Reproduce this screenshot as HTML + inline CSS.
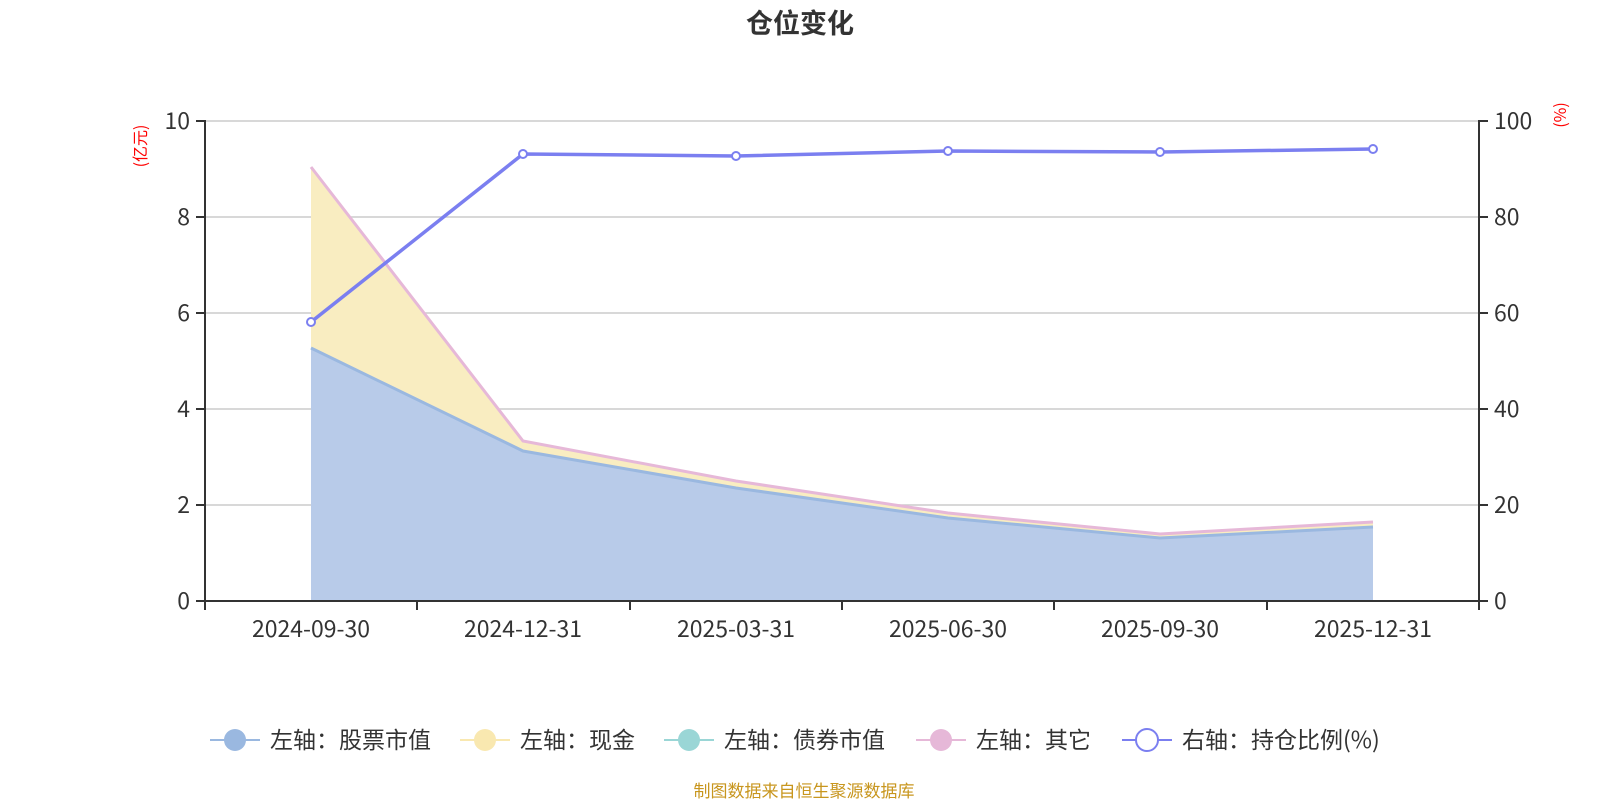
<!DOCTYPE html><html><head><meta charset="utf-8"><style>body{margin:0;background:#fff;overflow:hidden}svg{display:block;font-family:"Noto Sans CJK SC","Liberation Sans",sans-serif}</style></head><body>
<svg width="1600" height="800" xmlns="http://www.w3.org/2000/svg">
<text x="800" y="33" text-anchor="middle" font-size="27" font-weight="bold" fill="#333">仓位变化</text>
<g stroke="#ccc" stroke-width="1.5">
<line x1="205" x2="1479" y1="121" y2="121"/><line x1="205" x2="1479" y1="217" y2="217"/><line x1="205" x2="1479" y1="313" y2="313"/><line x1="205" x2="1479" y1="409" y2="409"/><line x1="205" x2="1479" y1="505" y2="505"/></g>
<polygon fill="#f9edc1" points="311,601 311,167 523,441 736,481 948,514 1160,535 1373,523 1373,601"/>
<polygon fill="#b8cbe9" points="311,601 311,348 523,451 736,488 948,518 1160,538 1373,527 1373,601"/>
<polyline fill="none" stroke="#9ab8e0" stroke-width="3" points="311,348 523,451 736,488 948,518 1160,538 1373,527"/>
<polyline fill="none" stroke="#e6b8d8" stroke-width="3" points="311,167 523,441 736,481 948,513 1160,534 1373,522"/>
<g stroke="#333" stroke-width="2" fill="none">
<line x1="205" y1="120" x2="205" y2="602"/><line x1="1479" y1="120" x2="1479" y2="602"/><line x1="204" y1="601" x2="1480" y2="601"/>
<path d="M196 121H205M196 217H205M196 313H205M196 409H205M196 505H205M196 601H205M1479 121H1488M1479 217H1488M1479 313H1488M1479 409H1488M1479 505H1488M1479 601H1488"/>
<path d="M205 601V610M417 601V610M630 601V610M842 601V610M1054 601V610M1267 601V610M1479 601V610"/></g>
<g font-size="23" fill="#333" text-anchor="end"><text x="190" y="129">10</text><text x="190" y="225">8</text><text x="190" y="321">6</text><text x="190" y="417">4</text><text x="190" y="513">2</text><text x="190" y="609">0</text></g>
<g font-size="23" fill="#333"><text x="1494" y="129">100</text><text x="1494" y="225">80</text><text x="1494" y="321">60</text><text x="1494" y="417">40</text><text x="1494" y="513">20</text><text x="1494" y="609">0</text></g>
<g font-size="23" fill="#333" text-anchor="middle"><text x="311" y="637">2024-09-30</text><text x="523" y="637">2024-12-31</text><text x="736" y="637">2025-03-31</text><text x="948" y="637">2025-06-30</text><text x="1160" y="637">2025-09-30</text><text x="1373" y="637">2025-12-31</text></g>
<text transform="translate(146,146) rotate(-90)" text-anchor="middle" font-size="16" fill="#f00">(亿元)</text>
<text transform="translate(1566,115) rotate(-90)" text-anchor="middle" font-size="16" fill="#f00">(%)</text>
<polyline fill="none" stroke="#7b7ff0" stroke-width="3.5" points="311,322 523,154 736,156 948,151 1160,152 1373,149"/>
<g fill="#fff" stroke="#7b7ff0" stroke-width="2"><circle cx="311" cy="322" r="4"/><circle cx="523" cy="154" r="4"/><circle cx="736" cy="156" r="4"/><circle cx="948" cy="151" r="4"/><circle cx="1160" cy="152" r="4"/><circle cx="1373" cy="149" r="4"/></g>
<g font-size="23" fill="#333">
<line x1="210" x2="260" y1="740" y2="740" stroke="#9ab8e0" stroke-width="2"/><circle cx="235" cy="740" r="11" fill="#9ab8e0"/><text x="270" y="748">左轴：股票市值</text>
<line x1="460" x2="510" y1="740" y2="740" stroke="#f9e8b0" stroke-width="2"/><circle cx="485" cy="740" r="11" fill="#f9e8b0"/><text x="520" y="748">左轴：现金</text>
<line x1="664" x2="714" y1="740" y2="740" stroke="#9ad6d6" stroke-width="2"/><circle cx="689" cy="740" r="11" fill="#9ad6d6"/><text x="724" y="748">左轴：债券市值</text>
<line x1="916" x2="966" y1="740" y2="740" stroke="#e6b8d8" stroke-width="2"/><circle cx="941" cy="740" r="11" fill="#e6b8d8"/><text x="976" y="748">左轴：其它</text>
<line x1="1122" x2="1172" y1="740" y2="740" stroke="#7b7ff0" stroke-width="2"/><circle cx="1147" cy="740" r="11" fill="#fff" stroke="#7b7ff0" stroke-width="2"/><text x="1182" y="748">右轴：持仓比例(%)</text></g>
<text x="804" y="797" text-anchor="middle" font-size="17" fill="#c8961e">制图数据来自恒生聚源数据库</text>
</svg></body></html>
